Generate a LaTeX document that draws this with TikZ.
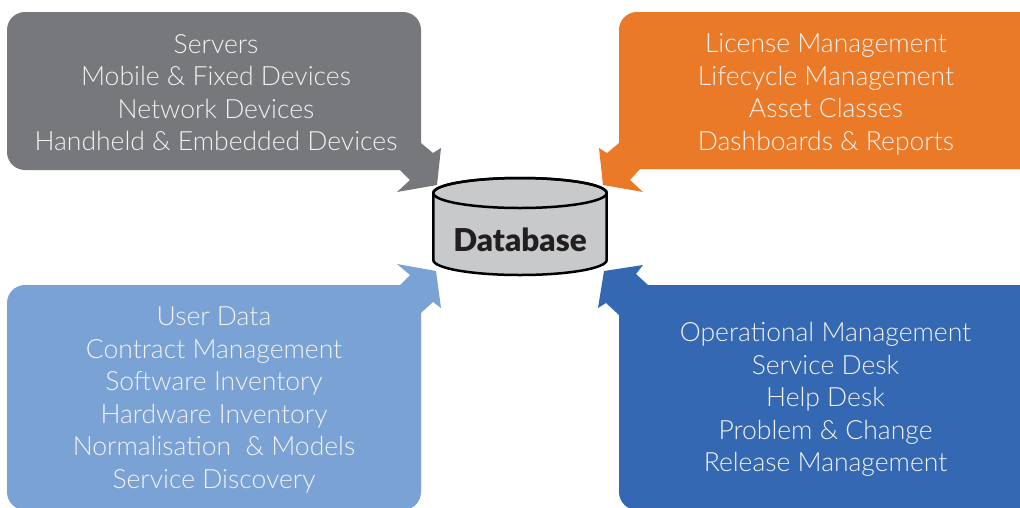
\documentclass[tikz,border=0pt]{standalone}
\usepackage{fontspec}
\IfFontExistsTF{Lato Light}{\newfontfamily\lightfont{Lato Light}}{\newfontfamily\lightfont{Lato}}
\IfFontExistsTF{Lato Black}{\newfontfamily\dbfont{Lato Black}}{\newfontfamily\dbfontbase{Lato}\newcommand\dbfont{\dbfontbase\bfseries}}
\definecolor{cgray}{HTML}{76787C}
\definecolor{corange}{HTML}{EB7A28}
\definecolor{clblue}{HTML}{7AA2D4}
\definecolor{cdblue}{HTML}{3568B2}
\definecolor{cdb}{HTML}{C8C9CB}
\definecolor{ctext}{HTML}{F2F2F2}
\definecolor{cdbtext}{HTML}{231F20}
\tikzset{
  boxtext/.style={text=ctext, align=center, inner sep=0pt, anchor=base,
    font=\lightfont\fontsize{26.5}{32.5}\selectfont},
  dbshape/.style={fill=cdb, draw=black, line width=2.5pt},
}
\begin{document}
\begin{tikzpicture}[x=1pt,y=-1pt]
\useasboundingbox (0,0) rectangle (1020,507);
% gray callout
\fill[cgray] (7,30) arc[start angle=180,end angle=270,radius=18] -- (403,12)
  arc[start angle=270,end angle=360,radius=18] -- (421,143) -- (433,153) -- (441,148)
  -- (437,185) -- (397,192) -- (410,180) -- (400,170) -- (25,170)
  arc[start angle=90,end angle=180,radius=18] -- cycle;
% orange callout
\fill[corange] (619,30) arc[start angle=180,end angle=270,radius=18] -- (1030,12)
  -- (1030,169) -- (640,169) -- (630,180) -- (643,192) -- (603,185) -- (599,148)
  -- (607,153) -- (619,143) -- cycle;
% light blue callout
\fill[clblue] (7,303) arc[start angle=180,end angle=270,radius=18] -- (400,285)
  -- (410,275) -- (397,264) -- (436,271) -- (441,308) -- (433,302) -- (421,313)
  -- (421,492) arc[start angle=0,end angle=90,radius=18] -- (25,510)
  arc[start angle=90,end angle=180,radius=18] -- cycle;
% dark blue callout
\fill[cdblue] (648,285) -- (1030,285) -- (1030,510) -- (637,510)
  arc[start angle=90,end angle=180,radius=18] -- (619,315) -- (606,303) -- (598,308)
  -- (604,271) -- (643,265) -- (636,274) -- cycle;
% database
\path[dbshape] (433.3,193) -- (433.3,260) arc[start angle=180,end angle=0,x radius=86.7,y radius=15]
  -- (606.7,193) arc[start angle=0,end angle=-180,x radius=86.7,y radius=15] -- cycle;
\draw[line width=2.5pt] (520,193) ellipse[x radius=86.7,y radius=15];
\node[anchor=base, inner sep=0pt, text=cdbtext, font=\dbfont\fontsize{31.5}{36}\selectfont] (db) at (520,251.5) {Database};
% texts (anchor base = last line's baseline)
\node[boxtext] (hw) at (216,150.7) {Servers\\Mobile \& Fixed Devices\\Network Devices\\Handheld \& Embedded Devices};
\node[boxtext] (lic) at (826,150.3) {License Management\\Lifecycle Management\\Asset Classes\\Dashboards \& Reports};
\node[boxtext] (usr) at (214,488.3) {User Data\\Contract Management\\Software Inventory\\Hardware Inventory\\Normalisation\ \ \& Models\\Service Discovery};
\node[boxtext] (ops) at (825.5,471.7) {Operational Management\\Service Desk\\Help Desk\\Problem \& Change\\Release Management};
\end{tikzpicture}
\end{document}
